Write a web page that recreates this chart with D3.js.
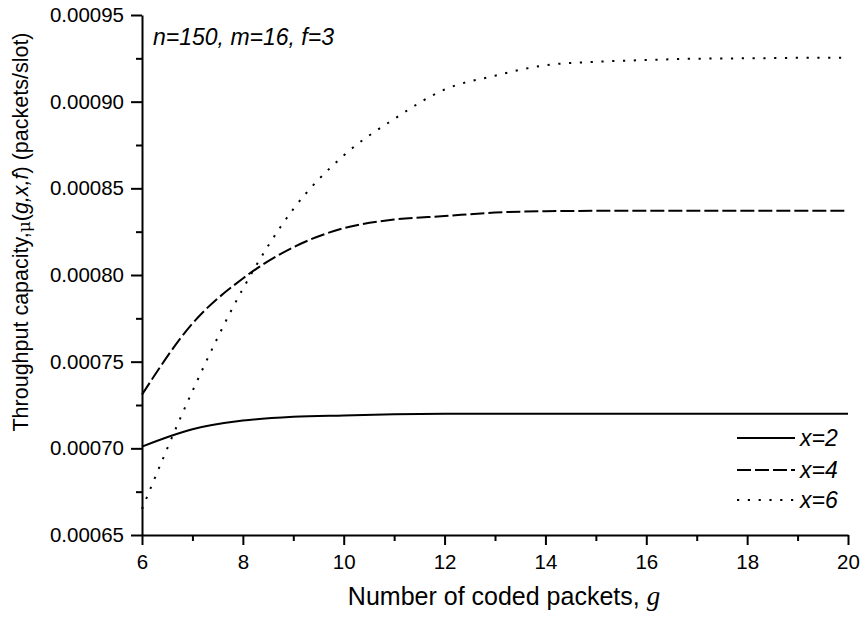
<!DOCTYPE html>
<html>
<head>
<meta charset="utf-8">
<script src="https://cdn.jsdelivr.net/npm/d3@7"></script>
<style>
  html, body { margin: 0; padding: 0; background: #fff; }
  text { font-family: "Liberation Sans", Arial, sans-serif; fill: #000; }
</style>
</head>
<body>
<svg id="chart" width="863" height="620"></svg>
<script>
const gValues = [6, 7, 8, 9, 10, 11, 12, 13, 14, 15, 16, 17, 18, 19, 20];
const seriesX2 = [0.000701, 0.000711, 0.000716, 0.0007182, 0.000719, 0.0007196, 0.0007199, 0.00072, 0.00072, 0.00072, 0.00072, 0.00072, 0.00072, 0.00072, 0.00072];
const seriesX4 = [0.000731, 0.000772, 0.000798, 0.000816, 0.000827, 0.000832, 0.000834, 0.000836, 0.0008368, 0.000837, 0.000837, 0.000837, 0.000837, 0.000837, 0.000837];
const seriesX6 = [0.000665, 0.000733, 0.000792, 0.000838, 0.000869, 0.00089, 0.000907, 0.000915, 0.000921, 0.000923, 0.000924, 0.0009248, 0.000925, 0.0009253, 0.0009254];
const seriesNames = ["x=2", "x=4", "x=6"];
const xTicks = [6, 8, 10, 12, 14, 16, 18, 20];
const xMinorTicks = [7, 9, 11, 13, 15, 17, 19];
const yTicks = [0.00065, 0.0007, 0.00075, 0.0008, 0.00085, 0.0009, 0.00095];
const yMinorTicks = [0.000675, 0.000725, 0.000775, 0.000825, 0.000875, 0.000925];

const svg = d3.select("#chart");
const pLeft = 142, pRight = 848, pTop = 15, pBottom = 535;

const x = d3.scaleLinear().domain([6, 20]).range([pLeft, pRight]);
const y = d3.scaleLinear().domain([0.00065, 0.00095]).range([pBottom, pTop]);

// minor ticks
svg.append("g").attr("transform", `translate(0,${pBottom})`)
  .call(d3.axisBottom(x).tickValues(xMinorTicks).tickSize(6).tickFormat(""))
  .call(g => g.select(".domain").remove())
  .call(g => g.selectAll("line").attr("stroke", "#000").attr("stroke-width", 2));
svg.append("g").attr("transform", `translate(${pLeft},0)`)
  .call(d3.axisLeft(y).tickValues(yMinorTicks).tickSize(6).tickFormat(""))
  .call(g => g.select(".domain").remove())
  .call(g => g.selectAll("line").attr("stroke", "#000").attr("stroke-width", 2));

// major axes
const xAxis = svg.append("g").attr("transform", `translate(0,${pBottom})`)
  .call(d3.axisBottom(x).tickValues(xTicks).tickSize(10).tickSizeOuter(0).tickPadding(9).tickFormat(d3.format("d")));
const yAxis = svg.append("g").attr("transform", `translate(${pLeft},0)`)
  .call(d3.axisLeft(y).tickValues(yTicks).tickSize(11).tickSizeOuter(0).tickPadding(7).tickFormat(d3.format(".5f")));
[xAxis, yAxis].forEach(a => {
  a.select(".domain").attr("stroke", "#000").attr("stroke-width", 2);
  a.selectAll("line").attr("stroke", "#000").attr("stroke-width", 2);
  a.selectAll("text").attr("font-size", 20.5).attr("font-family", '"Liberation Sans", Arial, sans-serif').attr("fill", "#000");
});

// lines
const data = [seriesX2, seriesX4, seriesX6];
const dashes = [null, "14,4", "2.2,8.6"];
const line = d3.line().x((d, i) => x(gValues[i])).y(d => y(d)).curve(d3.curveMonotoneX);
data.forEach((s, k) => {
  svg.append("path").datum(s)
    .attr("d", line)
    .attr("fill", "none")
    .attr("stroke", "#000")
    .attr("stroke-width", 2)
    .attr("stroke-dasharray", dashes[k]);
});

// legend
const legendY = [438, 470, 500];
seriesNames.forEach((n, k) => {
  svg.append("line").attr("x1", 737).attr("x2", 795).attr("y1", legendY[k]).attr("y2", legendY[k])
    .attr("stroke", "#000").attr("stroke-width", 2).attr("stroke-dasharray", dashes[k]);
  svg.append("text").attr("x", 800).attr("y", legendY[k] + 8)
    .attr("font-size", 23).attr("font-style", "italic").text(n);
});

// annotation
svg.append("text").attr("x", 153).attr("y", 45).attr("font-size", 23).attr("font-style", "italic")
  .text("n=150, m=16, f=3");

// x title
const xt = svg.append("text").attr("x", 504).attr("y", 605).attr("text-anchor", "middle").attr("font-size", 25);
xt.append("tspan").text("Number of coded packets, ");
xt.append("tspan").attr("font-family", '"Liberation Serif", "Times New Roman", serif').attr("font-style", "italic").attr("font-size", 27).text("g");

// y title
const yt = svg.append("text").attr("transform", `translate(28,232) rotate(-90)`)
  .attr("text-anchor", "middle").attr("font-size", 21.5);
yt.append("tspan").text("Throughput capacity,");
yt.append("tspan").attr("font-family", '"DejaVu Serif", serif').attr("font-size", 17).attr("dy", 2).text("\u03BC");
yt.append("tspan").attr("dy", -2).text("(");
yt.append("tspan").attr("font-style", "italic").text("g,x,f");
yt.append("tspan").text(") (packets/slot)");
</script>
</body>
</html>
